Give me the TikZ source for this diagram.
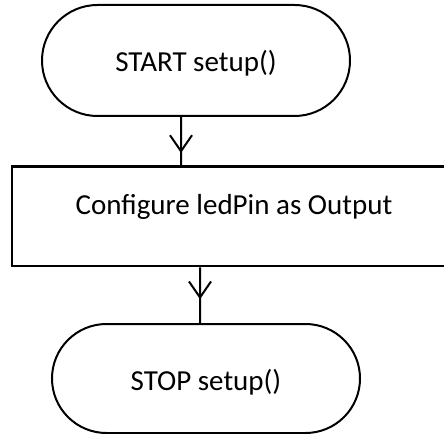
\documentclass[tikz,border=0pt]{standalone}
\usepackage{fontspec}
\setmainfont{Carlito}
\usetikzlibrary{arrows.meta,decorations.markings}
\begin{document}
\begin{tikzpicture}[x=1bp,y=-1bp,
  lbl/.style={font=\fontsize{29bp}{35bp}\selectfont},
  term/.style={lbl,draw,line width=2bp,minimum width=308bp,inner sep=0pt,text height=23bp,text depth=0bp},
  procbox/.style={lbl,draw,line width=2.6bp,minimum width=444bp,minimum height=99.3bp,inner sep=0pt,text height=20bp,text depth=22.6bp},
  flow/.style={line width=2bp,postaction={decorate},decoration={markings,mark=at position #1 with {\arrow{Straight Barb[length=16bp,width=22bp,line width=2bp]}}}}
]
\useasboundingbox (0,0) rectangle (444,434);
\clip (0,0) rectangle (444,434);
\node[term,minimum height=111bp,rounded corners=55.5bp] (start) at (196,60.5) {START setup()};
\node[procbox] (cfg) at (234,216.3) {Configure ledPin as Output};
\node[term,minimum height=109bp,rounded corners=54.5bp] (stop) at (206,378.5) {STOP setup()};
\draw[flow=36bp] ([xshift=-15bp]start.south) -- ([xshift=-53bp]cfg.north);
\draw[flow=32bp] ([xshift=-34bp]cfg.south) -- ([xshift=-6bp]stop.north);
\end{tikzpicture}
\end{document}
